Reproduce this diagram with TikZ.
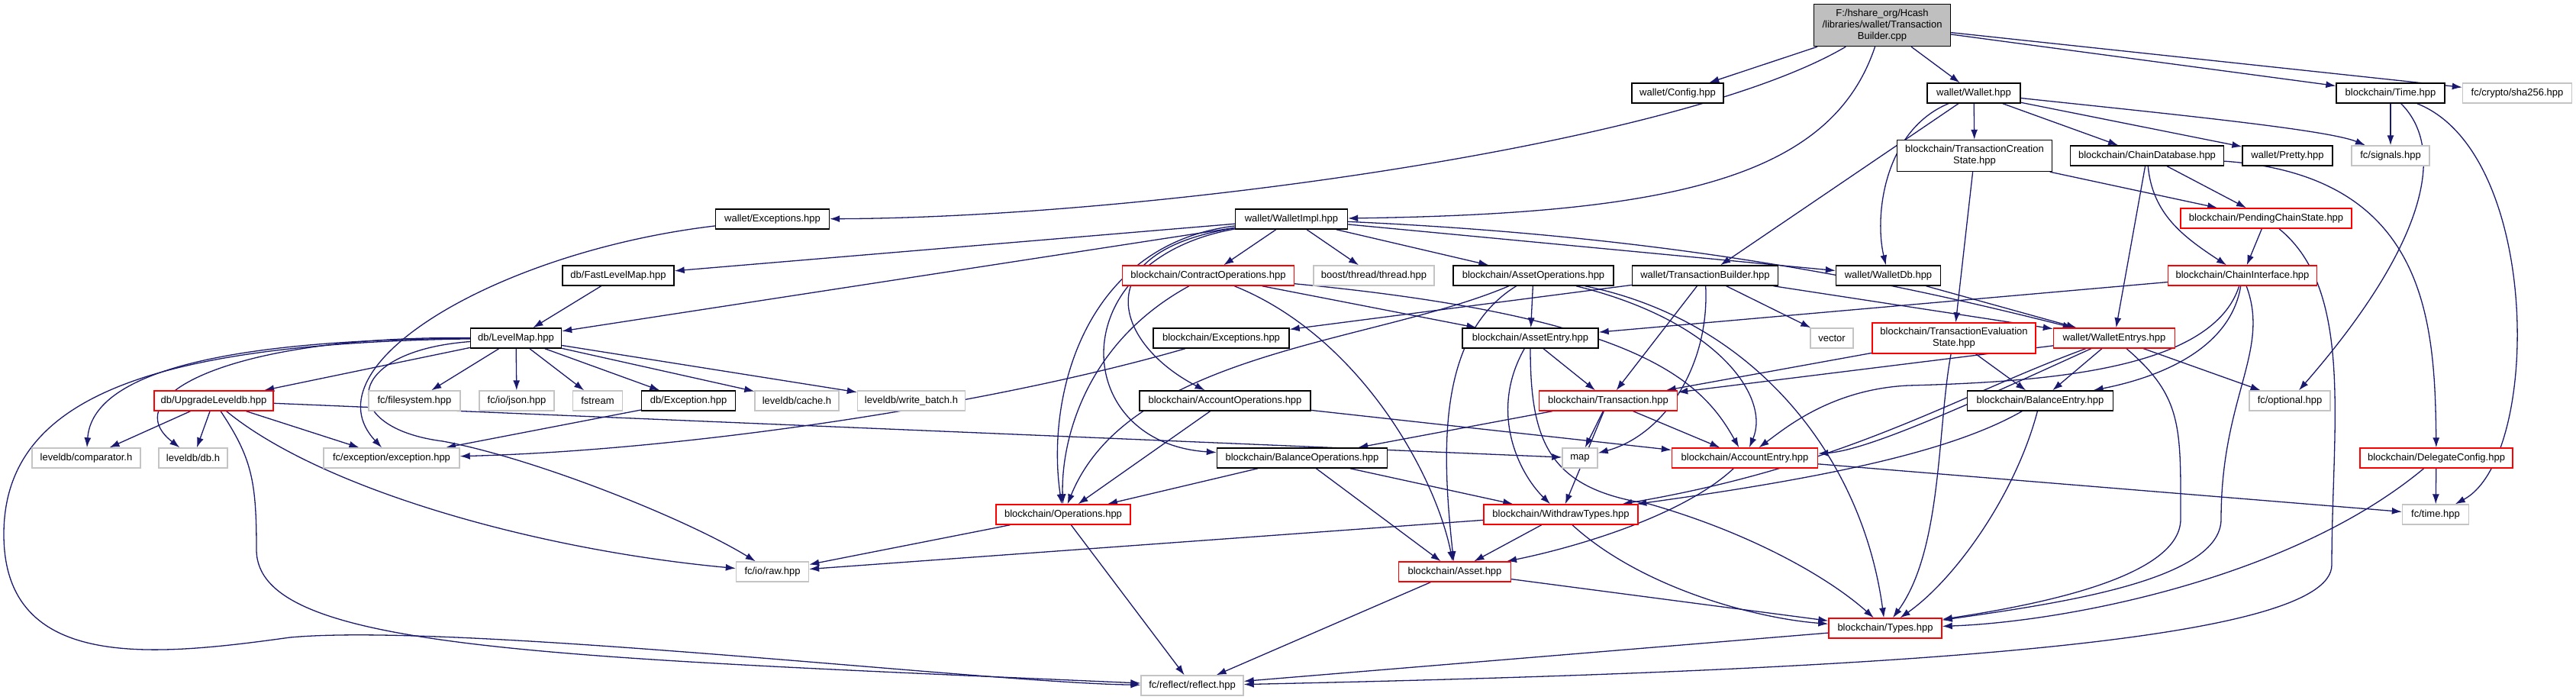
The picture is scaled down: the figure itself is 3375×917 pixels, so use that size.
\documentclass[tikz,border=0pt]{standalone}
\usepackage{fontspec}
\setmainfont{Liberation Sans}
\usetikzlibrary{arrows.meta}
\definecolor{edgeblue}{HTML}{191970}
\definecolor{srcgray}{HTML}{BFBFBF}
\definecolor{extgray}{HTML}{C4C4C4}
\pgfdeclarelayer{edges}
\pgfsetlayers{edges,main}
\begin{document}
\begin{tikzpicture}[x=1pt, y=-1pt,
  box/.style={rectangle, draw=black, line width=1.4pt, fill=white,
              minimum height=26pt, inner sep=2pt,
              font=\fontsize{13}{15}\selectfont, align=center},
  redbox/.style={box, draw=red},
  extbox/.style={box, draw=extgray},
  srcbox/.style={box, fill=srcgray},
  arrow/.style={-{Latex[length=13pt,width=9pt]}, draw=edgeblue, line width=1.3pt}
]
\useasboundingbox (0,0) rectangle (3375,917);

\node[srcbox, minimum width=179pt, minimum height=55pt] (root) at (2466,33) {F:/hshare\_org/Hcash\\/libraries/wallet/Transaction\\Builder.cpp};
\node[box, minimum width=120pt] (config) at (2198,122) {wallet/Config.hpp};
\node[box, minimum width=149pt] (wexc) at (1012,287) {wallet/Exceptions.hpp};
\node[box, minimum width=147pt] (wimpl) at (1692,287) {wallet/WalletImpl.hpp};
\node[box, minimum width=122pt] (wallet) at (2586,122) {wallet/Wallet.hpp};
\node[box, minimum width=142pt] (btime) at (3132,122) {blockchain/Time.hpp};
\node[extbox, minimum width=143pt] (sha) at (3298,122) {fc/crypto/sha256.hpp};
\node[box, minimum width=203pt, minimum height=41pt] (tcstate) at (2587,204) {blockchain/TransactionCreation\\State.hpp};
\node[box, minimum width=201pt] (chaindb) at (2813,204) {blockchain/ChainDatabase.hpp};
\node[box, minimum width=118pt] (pretty) at (2997,204) {wallet/Pretty.hpp};
\node[extbox, minimum width=102pt] (signals) at (3132,204) {fc/signals.hpp};
\node[redbox, minimum width=224pt] (pending) at (2969,286) {blockchain/PendingChainState.hpp};
\node[box, minimum width=146pt] (fastlm) at (810,361) {db/FastLevelMap.hpp};
\node[redbox, minimum width=225pt] (contractops) at (1583,361) {blockchain/ContractOperations.hpp};
\node[extbox, minimum width=158pt] (boost) at (1800,361) {boost/thread/thread.hpp};
\node[box, minimum width=210pt] (assetops) at (2009,361) {blockchain/AssetOperations.hpp};
\node[box, minimum width=191pt] (wtxb) at (2234,361) {wallet/TransactionBuilder.hpp};
\node[box, minimum width=137pt] (walletdb) at (2474,361) {wallet/WalletDb.hpp};
\node[redbox, minimum width=195pt] (chainif) at (2938,361) {blockchain/ChainInterface.hpp};
\node[box, minimum width=119pt] (levelmap) at (676,443) {db/LevelMap.hpp};
\node[box, minimum width=178pt] (bexc) at (1600,443) {blockchain/Exceptions.hpp};
\node[box, minimum width=178pt] (assetentry) at (2005,443) {blockchain/AssetEntry.hpp};
\node[extbox, minimum width=56pt] (vector) at (2400,443) {vector};
\node[redbox, minimum width=214pt, minimum height=40pt] (tevstate) at (2560,443) {blockchain/TransactionEvaluation\\State.hpp};
\node[redbox, minimum width=159pt] (wentrys) at (2770,443) {wallet/WalletEntrys.hpp};
\node[redbox, minimum width=156pt] (upgrade) at (280,525) {db/UpgradeLeveldb.hpp};
\node[extbox, minimum width=120pt] (filesys) at (543,525) {fc/filesystem.hpp};
\node[extbox, minimum width=98pt] (json) at (677,525) {fc/io/json.hpp};
\node[extbox, minimum width=65pt] (fstream) at (783,525) {fstream};
\node[box, minimum width=123pt] (dbexc) at (902,525) {db/Exception.hpp};
\node[extbox, minimum width=110pt] (cache) at (1044,525) {leveldb/cache.h};
\node[extbox, minimum width=141pt] (wbatch) at (1194,525) {leveldb/write\_batch.h};
\node[box, minimum width=224pt] (accountops) at (1605,525) {blockchain/AccountOperations.hpp};
\node[redbox, minimum width=181pt] (transaction) at (2107,525) {blockchain/Transaction.hpp};
\node[box, minimum width=191pt] (balanceentry) at (2673,525) {blockchain/BalanceEntry.hpp};
\node[extbox, minimum width=106pt] (optional) at (3000,525) {fc/optional.hpp};
\node[extbox, minimum width=142pt] (comparator) at (113,600) {leveldb/comparator.h};
\node[extbox, minimum width=90pt] (leveldbdb) at (253,600) {leveldb/db.h};
\node[extbox, minimum width=178pt] (fcexc) at (513,600) {fc/exception/exception.hpp};
\node[box, minimum width=223pt] (balanceops) at (1706,600) {blockchain/BalanceOperations.hpp};
\node[extbox, minimum width=46pt] (map) at (2070,600) {map};
\node[redbox, minimum width=191pt] (accountentry) at (2286,600) {blockchain/AccountEntry.hpp};
\node[redbox, minimum width=200pt] (delegate) at (3192,600) {blockchain/DelegateConfig.hpp};
\node[redbox, minimum width=176pt] (operations) at (1393,674) {blockchain/Operations.hpp};
\node[redbox, minimum width=202pt] (withdraw) at (2045,674) {blockchain/WithdrawTypes.hpp};
\node[extbox, minimum width=87pt] (fctime) at (3191,674) {fc/time.hpp};
\node[extbox, minimum width=95pt] (raw) at (1012,749) {fc/io/raw.hpp};
\node[redbox, minimum width=147pt] (asset) at (1906,749) {blockchain/Asset.hpp};
\node[redbox, minimum width=148pt] (types) at (2470,823) {blockchain/Types.hpp};
\node[extbox, minimum width=134pt] (reflect) at (1562,898) {fc/reflect/reflect.hpp};

\begin{pgfonlayer}{edges}
% source file
\draw[arrow] (root) -- (config);
\draw[arrow] (root) .. controls (2200,190) and (1500,285) .. (wexc);
\draw[arrow] (root) .. controls (2400,230) and (2200,280) .. (wimpl);
\draw[arrow] (root) -- (wallet);
\draw[arrow] (root) -- (btime);
\draw[arrow] (root) -- (sha);

% wallet, time, chain database
\draw[arrow] (wallet) -- (tcstate);
\draw[arrow] (wallet) -- (chaindb);
\draw[arrow] (wallet) -- (pretty);
\draw[arrow] (wallet) .. controls (2850,150) and (3050,170) .. (signals);
\draw[arrow] (wallet) -- (wtxb);
\draw[arrow] (wallet) .. controls (2470,170) and (2455,280) .. (walletdb);
\draw[arrow] (btime) -- (signals);
\draw[arrow] (btime) .. controls (3210,200) and (3170,330) .. (optional);
\draw[arrow] (btime) .. controls (3330,200) and (3330,600) .. (fctime);
\draw[arrow] (chaindb) -- (pending);
\draw[arrow] (chaindb) .. controls (2820,280) and (2860,310) .. (chainif);
\draw[arrow] (chaindb) -- (wentrys);
\draw[arrow] (chaindb) .. controls (3180,230) and (3190,420) .. (delegate);
\draw[arrow] (tcstate) -- (pending);
\draw[arrow] (tcstate) -- (tevstate);
\draw[arrow] (pending) -- (chainif);
\draw[arrow] (pending) .. controls (3085,380) and (3055,560) .. (3055,740)
  .. controls (3055,840) and (2500,878) .. (reflect);
\draw[arrow] (delegate) -- (fctime);
\draw[arrow] (delegate) .. controls (3000,760) and (2700,815) .. (types);

% wallet impl
\draw[arrow] (wimpl) -- (fastlm);
\draw[arrow] (wimpl) -- (levelmap);
\draw[arrow] (wimpl) -- (contractops);
\draw[arrow] (wimpl) -- (boost);
\draw[arrow] (wimpl) -- (assetops);
\draw[arrow] (wimpl) -- (walletdb);
\draw[arrow] (wimpl) .. controls (2200,310) and (2480,370) .. (wentrys);
\draw[arrow] (wimpl) .. controls (1420,330) and (1460,450) .. (accountops);
\draw[arrow] (wimpl) .. controls (1390,340) and (1400,580) .. (balanceops);
\draw[arrow] (wimpl) .. controls (1420,320) and (1370,520) .. (operations);
\draw[arrow] (wexc) .. controls (650,330) and (400,480) .. (fcexc);

% level db
\draw[arrow] (fastlm) -- (levelmap);
\draw[arrow] (levelmap) -- (upgrade);
\draw[arrow] (levelmap) -- (filesys);
\draw[arrow] (levelmap) -- (json);
\draw[arrow] (levelmap) -- (fstream);
\draw[arrow] (levelmap) -- (dbexc);
\draw[arrow] (levelmap) -- (cache);
\draw[arrow] (levelmap) -- (wbatch);
\draw[arrow] (levelmap) .. controls (250,445) and (120,500) .. (comparator);
\draw[arrow] (levelmap) .. controls (300,440) and (150,520) .. (leveldbdb);
\draw[arrow] (levelmap) .. controls (200,450) and (5,520) .. (5,700)
  .. controls (5,880) and (200,860) .. (380,835)
  .. controls (600,815) and (1300,895) .. (reflect);
\draw[arrow] (levelmap) .. controls (450,460) and (440,560) .. (580,578)
  .. controls (700,600) and (900,680) .. (raw);
\draw[arrow] (upgrade) -- (comparator);
\draw[arrow] (upgrade) -- (leveldbdb);
\draw[arrow] (upgrade) -- (fcexc);
\draw[arrow] (upgrade) -- (map);
\draw[arrow] (upgrade) .. controls (420,640) and (700,720) .. (raw);
\draw[arrow] (upgrade) .. controls (330,600) and (336,630) .. (336,720)
  .. controls (336,850) and (700,860) .. (reflect);
\draw[arrow] (dbexc) -- (fcexc);
\draw[arrow] (bexc) .. controls (1300,530) and (900,590) .. (fcexc);

% operations
\draw[arrow] (contractops) -- (assetentry);
\draw[arrow] (contractops) .. controls (2150,415) and (2230,500) .. (accountentry);
\draw[arrow] (contractops) .. controls (1780,440) and (1880,620) .. (asset);
\draw[arrow] (contractops) .. controls (1420,450) and (1390,580) .. (operations);
\draw[arrow] (assetops) -- (assetentry);
\draw[arrow] (assetops) .. controls (2250,420) and (2320,520) .. (accountentry);
\draw[arrow] (assetops) .. controls (2300,420) and (2440,600) .. (types);
\draw[arrow] (assetops) .. controls (1880,440) and (1890,600) .. (asset);
\draw[arrow] (assetops) .. controls (1800,450) and (1480,460) .. (operations);
\draw[arrow] (accountops) -- (operations);
\draw[arrow] (accountops) -- (accountentry);
\draw[arrow] (balanceops) -- (operations);
\draw[arrow] (balanceops) -- (withdraw);
\draw[arrow] (balanceops) -- (asset);

% transaction builder, entries
\draw[arrow] (wtxb) -- (transaction);
\draw[arrow] (wtxb) .. controls (2240,480) and (2180,570) .. (map);
\draw[arrow] (wtxb) -- (vector);
\draw[arrow] (wtxb) -- (wentrys);
\draw[arrow] (wtxb) -- (bexc);
\draw[arrow] (walletdb) -- (wentrys);
\draw[arrow] (tevstate) -- (transaction);
\draw[arrow] (tevstate) -- (balanceentry);
\draw[arrow] (tevstate) .. controls (2538,560) and (2545,720) .. (types);
\draw[arrow] (wentrys) -- (transaction);
\draw[arrow] (wentrys) -- (balanceentry);
\draw[arrow] (wentrys) -- (optional);
\draw[arrow] (wentrys) .. controls (2600,520) and (2450,590) .. (accountentry);
\draw[arrow] (wentrys) .. controls (2560,520) and (2420,610) .. (withdraw);
\draw[arrow] (wentrys) .. controls (2860,520) and (2857,560) .. (2857,680)
  .. controls (2857,760) and (2650,795) .. (types);
\draw[arrow] (chainif) -- (assetentry);
\draw[arrow] (chainif) .. controls (2900,480) and (2700,500) .. (2500,505)
  .. controls (2400,510) and (2340,560) .. (accountentry);
\draw[arrow] (chainif) .. controls (2920,470) and (2800,500) .. (balanceentry);
\draw[arrow] (chainif) .. controls (2975,460) and (2910,520) .. (2910,680)
  .. controls (2910,760) and (2700,790) .. (types);
\draw[arrow] (balanceentry) .. controls (2560,590) and (2400,625) .. (withdraw);
\draw[arrow] (balanceentry) .. controls (2640,650) and (2560,760) .. (types);
\draw[arrow] (assetentry) -- (transaction);
\draw[arrow] (assetentry) .. controls (1950,540) and (1990,620) .. (withdraw);
\draw[arrow] (assetentry) .. controls (2005,580) and (2030,640) .. (2160,660)
  .. controls (2300,700) and (2400,760) .. (types);
\draw[arrow] (transaction) -- (map);
\draw[arrow] (transaction) -- (accountentry);
\draw[arrow] (transaction) -- (balanceops);
\draw[arrow] (transaction) -- (withdraw);
\draw[arrow] (accountentry) .. controls (2200,680) and (2050,720) .. (asset);
\draw[arrow] (accountentry) -- (fctime);

% bottom
\draw[arrow] (withdraw) -- (asset);
\draw[arrow] (withdraw) -- (raw);
\draw[arrow] (withdraw) .. controls (2150,770) and (2300,810) .. (types);
\draw[arrow] (asset) -- (types);
\draw[arrow] (asset) -- (reflect);
\draw[arrow] (types) -- (reflect);
\draw[arrow] (operations) -- (raw);
\draw[arrow] (operations) -- (reflect);
\end{pgfonlayer}
\end{tikzpicture}
\end{document}
